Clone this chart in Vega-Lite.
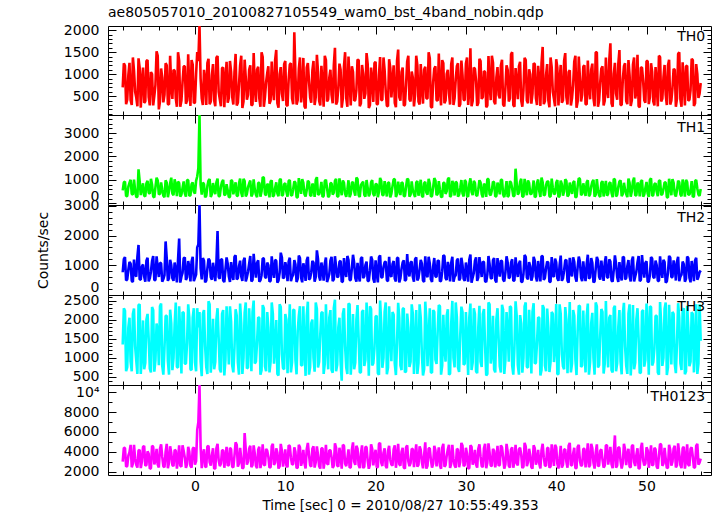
{
"$schema":"https://vega.github.io/schema/vega-lite/v6.json",
"padding":{"left":35,"top":5,"right":8,"bottom":2},
"background":"white",
"datasets":{"lc":[
{"t":-8,"a":700,"b":560,"c":760,"d":1350,"e":3000},
{"t":-7.875,"a":1250,"b":900,"c":1200,"d":2300,"e":4400},
{"t":-7.75,"a":1190,"b":930,"c":1270,"d":2230,"e":4380},
{"t":-7.625,"a":320,"b":310,"c":480,"d":650,"e":2500},
{"t":-7.5,"a":420,"b":320,"c":520,"d":760,"e":2560},
{"t":-7.375,"a":980,"b":720,"c":850,"d":1800,"e":3600},
{"t":-7.25,"a":1260,"b":880,"c":1110,"d":2050,"e":3950},
{"t":-7.125,"a":410,"b":1010,"c":1050,"d":900,"e":4700},
{"t":-7,"a":300,"b":410,"c":470,"d":650,"e":2430},
{"t":-6.875,"a":1380,"b":380,"c":430,"d":2150,"e":2800},
{"t":-6.75,"a":1080,"b":1020,"c":1190,"d":2290,"e":4700},
{"t":-6.625,"a":600,"b":560,"c":700,"d":1300,"e":3300},
{"t":-6.5,"a":470,"b":280,"c":610,"d":930,"e":2690},
{"t":-6.375,"a":270,"b":280,"c":1280,"d":580,"e":2400},
{"t":-6.25,"a":1360,"b":1450,"c":1680,"d":2380,"e":4120},
{"t":-6.125,"a":1150,"b":950,"c":520,"d":2400,"e":4200},
{"t":-6,"a":240,"b":360,"c":510,"d":580,"e":2350},
{"t":-5.875,"a":850,"b":640,"c":960,"d":1100,"e":3000},
{"t":-5.75,"a":1150,"b":860,"c":1020,"d":1980,"e":4490},
{"t":-5.625,"a":350,"b":330,"c":620,"d":700,"e":4600},
{"t":-5.5,"a":380,"b":300,"c":440,"d":870,"e":2600},
{"t":-5.375,"a":1300,"b":860,"c":1150,"d":2000,"e":2650},
{"t":-5.25,"a":1320,"b":960,"c":1250,"d":2150,"e":4050},
{"t":-5.125,"a":480,"b":460,"c":450,"d":1500,"e":3800},
{"t":-5,"a":290,"b":420,"c":560,"d":720,"e":2280},
{"t":-4.875,"a":1050,"b":1050,"c":780,"d":620,"e":2350},
{"t":-4.75,"a":1000,"b":800,"c":1140,"d":2330,"e":4600},
{"t":-4.625,"a":290,"b":300,"c":1310,"d":2250,"e":4500},
{"t":-4.5,"a":510,"b":260,"c":490,"d":640,"e":2720},
{"t":-4.375,"a":760,"b":700,"c":500,"d":950,"e":3100},
{"t":-4.25,"a":1520,"b":1100,"c":1300,"d":1900,"e":4300},
{"t":-4.125,"a":1420,"b":980,"c":900,"d":1700,"e":2700},
{"t":-4,"a":200,"b":390,"c":600,"d":810,"e":2410},
{"t":-3.875,"a":380,"b":410,"c":1080,"d":2350,"e":4300},
{"t":-3.75,"a":1130,"b":900,"c":1060,"d":2420,"e":4750},
{"t":-3.625,"a":920,"b":590,"c":440,"d":800,"e":3500},
{"t":-3.5,"a":360,"b":330,"c":530,"d":560,"e":2520},
{"t":-3.375,"a":530,"b":270,"c":660,"d":1250,"e":2450},
{"t":-3.25,"a":1250,"b":990,"c":1800,"d":2100,"e":3980},
{"t":-3.125,"a":1200,"b":880,"c":1220,"d":2100,"e":4800},
{"t":-3,"a":320,"b":270,"c":470,"d":920,"e":2330},
{"t":-2.875,"a":310,"b":520,"c":560,"d":560,"e":2900},
{"t":-2.75,"a":1420,"b":850,"c":1180,"d":2260,"e":4550},
{"t":-2.625,"a":690,"b":1100,"c":1000,"d":1900,"e":3900},
{"t":-2.5,"a":440,"b":420,"c":560,"d":680,"e":2640},
{"t":-2.375,"a":1100,"b":350,"c":470,"d":1000,"e":2550},
{"t":-2.25,"a":1080,"b":1030,"c":1090,"d":1870,"e":4200},
{"t":-2.125,"a":450,"b":780,"c":820,"d":2450,"e":4100},
{"t":-2,"a":260,"b":310,"c":420,"d":760,"e":2290},
{"t":-1.875,"a":1500,"b":930,"c":1180,"d":750,"e":3200},
{"t":-1.75,"a":1300,"b":870,"c":1900,"d":2350,"e":4650},
{"t":-1.625,"a":260,"b":290,"c":410,"d":1600,"e":2600},
{"t":-1.5,"a":400,"b":380,"c":610,"d":590,"e":2480},
{"t":-1.375,"a":820,"b":660,"c":740,"d":2200,"e":4650},
{"t":-1.25,"a":1180,"b":940,"c":1230,"d":2180,"e":4080},
{"t":-1.125,"a":1180,"b":430,"c":1260,"d":850,"e":3400},
{"t":-1,"a":330,"b":290,"c":500,"d":850,"e":2370},
{"t":-0.875,"a":400,"b":1000,"c":590,"d":1400,"e":2750},
{"t":-0.75,"a":1450,"b":1000,"c":1140,"d":2400,"e":4500},
{"t":-0.625,"a":640,"b":320,"c":930,"d":2050,"e":4000},
{"t":-0.5,"a":280,"b":350,"c":450,"d":700,"e":2580},
{"t":-0.375,"a":1320,"b":820,"c":1120,"d":680,"e":2400},
{"t":-0.25,"a":1220,"b":900,"c":1280,"d":2050,"e":4300},
{"t":-0.125,"a":340,"b":500,"c":460,"d":2300,"e":4450},
{"t":0,"a":360,"b":420,"c":570,"d":880,"e":2700},
{"t":0.125,"a":1000,"b":960,"c":680,"d":650,"e":3050},
{"t":0.25,"a":1500,"b":1150,"c":1600,"d":2300,"e":6200},
{"t":0.375,"a":1300,"b":1500,"c":1700,"d":1800,"e":7000},
{"t":0.5,"a":2110,"b":3770,"c":3050,"d":2200,"e":10750},
{"t":0.625,"a":900,"b":800,"c":900,"d":900,"e":4500},
{"t":0.75,"a":450,"b":380,"c":520,"d":520,"e":2350},
{"t":0.875,"a":300,"b":890,"c":1240,"d":2150,"e":3700},
{"t":1,"a":1100,"b":820,"c":1150,"d":2250,"e":4250},
{"t":1.125,"a":880,"b":260,"c":420,"d":1300,"e":2500},
{"t":1.25,"a":300,"b":330,"c":480,"d":760,"e":2450},
{"t":1.375,"a":1250,"b":740,"c":880,"d":580,"e":4550},
{"t":1.5,"a":1350,"b":980,"c":1220,"d":2480,"e":4600},
{"t":1.625,"a":320,"b":1040,"c":1160,"d":2400,"e":2950},
{"t":1.75,"a":380,"b":280,"c":590,"d":610,"e":2600},
{"t":1.875,"a":980,"b":400,"c":510,"d":1100,"e":3650},
{"t":2,"a":1230,"b":870,"c":1080,"d":2020,"e":4350},
{"t":2.125,"a":410,"b":570,"c":760,"d":700,"e":2300},
{"t":2.25,"a":270,"b":400,"c":460,"d":900,"e":2300},
{"t":2.375,"a":1380,"b":900,"c":1090,"d":2000,"e":4350},
{"t":2.5,"a":1410,"b":1060,"c":2150,"d":2300,"e":4800},
{"t":2.625,"a":600,"b":310,"c":600,"d":1500,"e":3150},
{"t":2.75,"a":430,"b":310,"c":540,"d":700,"e":2550},
{"t":2.875,"a":270,"b":720,"c":1200,"d":620,"e":2800},
{"t":3,"a":1140,"b":920,"c":1190,"d":2150,"e":4150},
{"t":3.125,"a":1150,"b":1010,"c":480,"d":2250,"e":4150},
{"t":3.25,"a":250,"b":360,"c":430,"d":540,"e":2380},
{"t":3.375,"a":850,"b":380,"c":850,"d":950,"e":3450},
{"t":3.5,"a":1280,"b":820,"c":1260,"d":2350,"e":4500},
{"t":3.625,"a":350,"b":560,"c":1050,"d":1700,"e":2600},
{"t":3.75,"a":460,"b":270,"c":620,"d":830,"e":2650},
{"t":3.875,"a":1300,"b":280,"c":430,"d":2350,"e":4400},
{"t":4,"a":1050,"b":1000,"c":1100,"d":1950,"e":4250},
{"t":4.125,"a":480,"b":950,"c":700,"d":800,"e":2500},
{"t":4.25,"a":310,"b":390,"c":500,"d":620,"e":2420},
{"t":4.375,"a":1050,"b":640,"c":1280,"d":1250,"e":3600},
{"t":4.5,"a":1460,"b":900,"c":1330,"d":2270,"e":4950},
{"t":4.625,"a":290,"b":330,"c":520,"d":2100,"e":4700},
{"t":4.75,"a":350,"b":320,"c":560,"d":880,"e":2500},
{"t":4.875,"a":760,"b":860,"c":960,"d":560,"e":2800},
{"t":5,"a":1200,"b":1060,"c":1150,"d":2420,"e":4400},
{"t":5.125,"a":1420,"b":460,"c":620,"d":1900,"e":3300},
{"t":5.25,"a":230,"b":280,"c":470,"d":580,"e":2300},
{"t":5.375,"a":380,"b":1050,"c":1150,"d":1000,"e":2400},
{"t":5.5,"a":1330,"b":950,"c":1250,"d":2180,"e":5900},
{"t":5.625,"a":920,"b":300,"c":450,"d":2450,"e":4200},
{"t":5.75,"a":420,"b":410,"c":590,"d":720,"e":2700},
{"t":5.875,"a":530,"b":700,"c":780,"d":750,"e":3000},
{"t":6,"a":1100,"b":850,"c":1050,"d":2300,"e":4300},
{"t":6.125,"a":1200,"b":980,"c":1310,"d":1600,"e":4600},
{"t":6.25,"a":290,"b":300,"c":450,"d":650,"e":2450},
{"t":6.375,"a":310,"b":410,"c":500,"d":2200,"e":2650},
{"t":6.5,"a":1480,"b":1030,"c":1380,"d":2500,"e":4650},
{"t":6.625,"a":690,"b":590,"c":900,"d":850,"e":3800},
{"t":6.75,"a":370,"b":370,"c":580,"d":900,"e":2560},
{"t":6.875,"a":1100,"b":270,"c":1080,"d":1400,"e":2350},
{"t":7,"a":1170,"b":880,"c":1160,"d":2060,"e":4200},
{"t":7.125,"a":450,"b":880,"c":440,"d":2050,"e":4500},
{"t":7.25,"a":260,"b":290,"c":490,"d":560,"e":2340},
{"t":7.375,"a":1500,"b":520,"c":660,"d":680,"e":3100},
{"t":7.5,"a":1390,"b":1120,"c":1230,"d":2380,"e":4750},
{"t":7.625,"a":260,"b":1100,"c":1220,"d":2300,"e":2700},
{"t":7.75,"a":480,"b":400,"c":610,"d":780,"e":2620},
{"t":7.875,"a":820,"b":350,"c":560,"d":650,"e":4300},
{"t":8,"a":1020,"b":830,"c":1090,"d":2200,"e":4100},
{"t":8.125,"a":1180,"b":780,"c":1000,"d":1800,"e":3500},
{"t":8.25,"a":330,"b":260,"c":440,"d":620,"e":2400},
{"t":8.375,"a":400,"b":930,"c":470,"d":900,"e":2450},
{"t":8.5,"a":1290,"b":990,"c":1300,"d":2450,"e":4550},
{"t":8.625,"a":640,"b":290,"c":820,"d":2150,"e":4800},
{"t":8.75,"a":410,"b":350,"c":570,"d":850,"e":2680},
{"t":8.875,"a":1320,"b":660,"c":1180,"d":1300,"e":2900},
{"t":9,"a":1550,"b":900,"c":1150,"d":1990,"e":4350},
{"t":9.125,"a":340,"b":430,"c":410,"d":580,"e":3900},
{"t":9.25,"a":240,"b":310,"c":480,"d":540,"e":2300},
{"t":9.375,"a":1000,"b":1000,"c":740,"d":2400,"e":2550},
{"t":9.5,"a":1160,"b":1050,"c":1420,"d":2330,"e":4800},
{"t":9.625,"a":560,"b":320,"c":1260,"d":1100,"e":4100},
{"t":9.75,"a":390,"b":380,"c":550,"d":730,"e":2500},
{"t":9.875,"a":1230,"b":820,"c":590,"d":700,"e":3200},
{"t":10,"a":1300,"b":860,"c":1100,"d":2150,"e":4250},
{"t":10.125,"a":300,"b":500,"c":930,"d":2000,"e":2600},
{"t":10.25,"a":280,"b":290,"c":460,"d":600,"e":2450},
{"t":10.375,"a":880,"b":960,"c":1120,"d":1500,"e":4650},
{"t":10.5,"a":1220,"b":1000,"c":1250,"d":2400,"e":4600},
{"t":10.625,"a":1250,"b":360,"c":460,"d":620,"e":3400},
{"t":10.75,"a":450,"b":340,"c":600,"d":880,"e":2700},
{"t":10.875,"a":320,"b":610,"c":680,"d":2250,"e":2750},
{"t":11,"a":1950,"b":940,"c":1170,"d":2260,"e":4450},
{"t":11.125,"a":980,"b":890,"c":1030,"d":950,"e":4000},
{"t":11.25,"a":310,"b":270,"c":430,"d":570,"e":2350},
{"t":11.375,"a":410,"b":260,"c":540,"d":1700,"e":2400},
{"t":11.5,"a":1120,"b":1080,"c":1320,"d":2100,"e":4700},
{"t":11.625,"a":1380,"b":740,"c":1240,"d":2350,"e":4450},
{"t":11.75,"a":360,"b":410,"c":580,"d":810,"e":2580},
{"t":11.875,"a":600,"b":1040,"c":420,"d":800,"e":3050},
{"t":12,"a":1370,"b":880,"c":1060,"d":2350,"e":4200},
{"t":12.125,"a":270,"b":400,"c":880,"d":1250,"e":2850},
{"t":12.25,"a":220,"b":300,"c":470,"d":530,"e":2320},
{"t":12.375,"a":1150,"b":570,"c":1160,"d":2100,"e":4250},
{"t":12.5,"a":1250,"b":970,"c":1280,"d":2470,"e":4900},
{"t":12.625,"a":850,"b":900,"c":510,"d":560,"e":3700},
{"t":12.75,"a":470,"b":360,"c":560,"d":760,"e":2640},
{"t":12.875,"a":350,"b":310,"c":760,"d":1900,"e":2500},
{"t":13,"a":1080,"b":850,"c":1140,"d":2000,"e":4300},
{"t":13.125,"a":1300,"b":720,"c":1090,"d":1000,"e":4550},
{"t":13.25,"a":300,"b":280,"c":440,"d":640,"e":2400},
{"t":13.375,"a":480,"b":1010,"c":600,"d":2450,"e":2950},
{"t":13.5,"a":1440,"b":1120,"c":1500,"d":2280,"e":4550},
{"t":13.625,"a":1050,"b":380,"c":1200,"d":750,"e":3650},
{"t":13.75,"a":390,"b":390,"c":610,"d":900,"e":2550},
{"t":13.875,"a":290,"b":560,"c":480,"d":1600,"e":2300},
{"t":14,"a":1190,"b":920,"c":1090,"d":2180,"e":4350},
{"t":14.125,"a":760,"b":280,"c":850,"d":2200,"e":4350},
{"t":14.25,"a":260,"b":320,"c":480,"d":580,"e":2300},
{"t":14.375,"a":1420,"b":950,"c":1050,"d":850,"e":3150},
{"t":14.5,"a":1320,"b":1010,"c":1260,"d":2400,"e":4700},
{"t":14.625,"a":380,"b":640,"c":430,"d":1400,"e":2800},
{"t":14.75,"a":430,"b":270,"c":550,"d":700,"e":2700},
{"t":14.875,"a":920,"b":330,"c":700,"d":2050,"e":4150},
{"t":15,"a":1100,"b":870,"c":1150,"d":2250,"e":4150},
{"t":15.125,"a":530,"b":860,"c":1280,"d":680,"e":3450},
{"t":15.25,"a":340,"b":380,"c":460,"d":610,"e":2380},
{"t":15.375,"a":1200,"b":460,"c":520,"d":2300,"e":2600},
{"t":15.5,"a":1600,"b":960,"c":1300,"d":2520,"e":4850},
{"t":15.625,"a":310,"b":1050,"c":960,"d":650,"e":4400},
{"t":15.75,"a":380,"b":300,"c":590,"d":820,"e":2600},
{"t":15.875,"a":690,"b":300,"c":620,"d":1800,"e":2500},
{"t":16,"a":1240,"b":1070,"c":1110,"d":2050,"e":4400},
{"t":16.125,"a":1100,"b":700,"c":1150,"d":900,"e":3600},
{"t":16.25,"a":240,"b":350,"c":430,"d":400,"e":2300},
{"t":16.375,"a":450,"b":980,"c":450,"d":2150,"e":4700},
{"t":16.5,"a":1180,"b":880,"c":1240,"d":2300,"e":4600},
{"t":16.625,"a":1500,"b":410,"c":780,"d":1300,"e":2800},
{"t":16.75,"a":460,"b":290,"c":600,"d":750,"e":2550},
{"t":16.875,"a":260,"b":590,"c":1310,"d":580,"e":3300},
{"t":17,"a":1400,"b":990,"c":1170,"d":2420,"e":4250},
{"t":17.125,"a":820,"b":270,"c":500,"d":2400,"e":2400},
{"t":17.25,"a":290,"b":410,"c":490,"d":560,"e":2420},
{"t":17.375,"a":1180,"b":880,"c":900,"d":1100,"e":4200},
{"t":17.5,"a":1050,"b":920,"c":1350,"d":2150,"e":4950},
{"t":17.625,"a":400,"b":520,"c":1080,"d":700,"e":3000},
{"t":17.75,"a":410,"b":330,"c":570,"d":880,"e":2680},
{"t":17.875,"a":640,"b":1100,"c":440,"d":2000,"e":4600},
{"t":18,"a":1330,"b":1040,"c":1080,"d":2380,"e":4300},
{"t":18.125,"a":1320,"b":350,"c":660,"d":1500,"e":2650},
{"t":18.25,"a":270,"b":280,"c":450,"d":620,"e":2350},
{"t":18.375,"a":340,"b":780,"c":1220,"d":620,"e":3800},
{"t":18.5,"a":1210,"b":860,"c":1270,"d":2200,"e":4650},
{"t":18.625,"a":1000,"b":930,"c":560,"d":2250,"e":2350},
{"t":18.75,"a":440,"b":370,"c":620,"d":790,"e":2500},
{"t":18.875,"a":560,"b":290,"c":1000,"d":950,"e":4500},
{"t":19,"a":1480,"b":1000,"c":1120,"d":2450,"e":4450},
{"t":19.125,"a":1230,"b":660,"c":470,"d":1700,"e":3100},
{"t":19.25,"a":230,"b":310,"c":470,"d":530,"e":2280},
{"t":19.375,"a":300,"b":430,"c":820,"d":2350,"e":2700},
{"t":19.5,"a":1150,"b":900,"c":1290,"d":2280,"e":4750},
{"t":19.625,"a":880,"b":1000,"c":1180,"d":800,"e":4300},
{"t":19.75,"a":370,"b":400,"c":540,"d":860,"e":2620},
{"t":19.875,"a":1250,"b":320,"c":410,"d":1250,"e":3500},
{"t":20,"a":1280,"b":830,"c":1160,"d":2080,"e":4200},
{"t":20.125,"a":320,"b":820,"c":740,"d":2100,"e":2450},
{"t":20.25,"a":320,"b":270,"c":420,"d":600,"e":2450},
{"t":20.375,"a":980,"b":500,"c":1260,"d":560,"e":4800},
{"t":20.5,"a":1390,"b":1090,"c":1330,"d":2500,"e":4900},
{"t":20.625,"a":410,"b":960,"c":590,"d":1900,"e":2900},
{"t":20.75,"a":420,"b":350,"c":580,"d":740,"e":2560},
{"t":20.875,"a":1380,"b":360,"c":930,"d":1000,"e":3900},
{"t":21,"a":1090,"b":950,"c":1100,"d":2200,"e":4350},
{"t":21.125,"a":600,"b":610,"c":1120,"d":2450,"e":2550},
{"t":21.25,"a":280,"b":300,"c":490,"d":570,"e":2330},
{"t":21.375,"a":270,"b":890,"c":460,"d":750,"e":4100},
{"t":21.5,"a":1340,"b":880,"c":1280,"d":2350,"e":4600},
{"t":21.625,"a":1150,"b":260,"c":680,"d":1600,"e":3200},
{"t":21.75,"a":470,"b":420,"c":600,"d":910,"e":2700},
{"t":21.875,"a":850,"b":740,"c":1030,"d":2200,"e":2600},
{"t":22,"a":1200,"b":1020,"c":1140,"d":2130,"e":4250},
{"t":22.125,"a":350,"b":1040,"c":540,"d":850,"e":4650},
{"t":22.25,"a":250,"b":280,"c":450,"d":550,"e":2380},
{"t":22.375,"a":1300,"b":400,"c":1240,"d":1400,"e":3400},
{"t":22.5,"a":1560,"b":930,"c":1250,"d":2440,"e":4800},
{"t":22.625,"a":480,"b":570,"c":420,"d":2050,"e":2750},
{"t":22.75,"a":400,"b":360,"c":560,"d":800,"e":2600},
{"t":22.875,"a":1050,"b":900,"c":880,"d":680,"e":4000},
{"t":23,"a":1150,"b":870,"c":1090,"d":2280,"e":4400},
{"t":23.125,"a":290,"b":310,"c":1160,"d":2300,"e":2400},
{"t":23.25,"a":300,"b":320,"c":470,"d":620,"e":2300},
{"t":23.375,"a":760,"b":720,"c":510,"d":650,"e":4450},
{"t":23.5,"a":1290,"b":1060,"c":1370,"d":2160,"e":4650},
{"t":23.625,"a":1420,"b":1010,"c":760,"d":1800,"e":3050},
{"t":23.75,"a":430,"b":290,"c":620,"d":760,"e":2550},
{"t":23.875,"a":380,"b":380,"c":1090,"d":900,"e":2850},
{"t":24,"a":1060,"b":940,"c":1120,"d":2400,"e":4300},
{"t":24.125,"a":920,"b":560,"c":600,"d":2150,"e":4250},
{"t":24.25,"a":270,"b":400,"c":440,"d":580,"e":2450},
{"t":24.375,"a":530,"b":280,"c":1200,"d":1300,"e":3700},
{"t":24.5,"a":1420,"b":890,"c":1260,"d":2250,"e":4750},
{"t":24.625,"a":1200,"b":950,"c":480,"d":580,"e":2500},
{"t":24.75,"a":380,"b":330,"c":570,"d":870,"e":2680},
{"t":24.875,"a":310,"b":640,"c":850,"d":2400,"e":4550},
{"t":25,"a":1230,"b":1010,"c":1180,"d":2050,"e":4200},
{"t":25.125,"a":690,"b":330,"c":1050,"d":1100,"e":2950},
{"t":25.25,"a":330,"b":270,"c":480,"d":540,"e":2320},
{"t":25.375,"a":1100,"b":860,"c":430,"d":700,"e":3650},
{"t":25.5,"a":1170,"b":920,"c":1300,"d":2470,"e":4950},
{"t":25.625,"a":450,"b":460,"c":700,"d":2000,"e":2300},
{"t":25.75,"a":450,"b":380,"c":590,"d":780,"e":2580},
{"t":25.875,"a":1500,"b":1050,"c":1280,"d":1500,"e":4350},
{"t":26,"a":1360,"b":860,"c":1060,"d":2300,"e":4350},
{"t":26.125,"a":260,"b":300,"c":520,"d":620,"e":3150},
{"t":26.25,"a":240,"b":310,"c":430,"d":610,"e":2400},
{"t":26.375,"a":820,"b":700,"c":960,"d":2250,"e":2800},
{"t":26.5,"a":1130,"b":1080,"c":1240,"d":2200,"e":4600},
{"t":26.625,"a":1180,"b":980,"c":620,"d":950,"e":4150},
{"t":26.75,"a":410,"b":350,"c":600,"d":840,"e":2520},
{"t":26.875,"a":400,"b":410,"c":1150,"d":1700,"e":3450},
{"t":27,"a":1470,"b":950,"c":1150,"d":2380,"e":4450},
{"t":27.125,"a":640,"b":590,"c":450,"d":2350,"e":2600},
{"t":27.25,"a":290,"b":290,"c":470,"d":560,"e":2280},
{"t":27.375,"a":1320,"b":270,"c":780,"d":800,"e":4400},
{"t":27.5,"a":1250,"b":880,"c":1330,"d":2130,"e":4800},
{"t":27.625,"a":340,"b":880,"c":1310,"d":1250,"e":2500},
{"t":27.75,"a":400,"b":410,"c":560,"d":900,"e":2650},
{"t":27.875,"a":1000,"b":520,"c":500,"d":2100,"e":3600},
{"t":28,"a":1100,"b":1030,"c":1110,"d":2270,"e":4250},
{"t":28.125,"a":560,"b":1100,"c":900,"d":560,"e":4700},
{"t":28.25,"a":310,"b":280,"c":450,"d":590,"e":2370},
{"t":28.375,"a":1230,"b":350,"c":1080,"d":1900,"e":2800},
{"t":28.5,"a":1380,"b":960,"c":1280,"d":2490,"e":4700},
{"t":28.625,"a":300,"b":780,"c":440,"d":1000,"e":3300},
{"t":28.75,"a":460,"b":340,"c":610,"d":750,"e":2600},
{"t":28.875,"a":880,"b":930,"c":660,"d":2450,"e":2400},
{"t":29,"a":1180,"b":870,"c":1160,"d":2060,"e":4300},
{"t":29.125,"a":1250,"b":290,"c":1220,"d":750,"e":4200},
{"t":29.25,"a":260,"b":380,"c":480,"d":630,"e":2430},
{"t":29.375,"a":320,"b":660,"c":560,"d":1600,"e":3000},
{"t":29.5,"a":1310,"b":1000,"c":1250,"d":2340,"e":4900},
{"t":29.625,"a":980,"b":430,"c":1000,"d":2200,"e":4600},
{"t":29.75,"a":420,"b":300,"c":540,"d":820,"e":2550},
{"t":29.875,"a":410,"b":1000,"c":470,"d":850,"e":2650},
{"t":30,"a":1240,"b":920,"c":1090,"d":2200,"e":4400},
{"t":30.125,"a":1380,"b":320,"c":820,"d":1400,"e":3800},
{"t":30.25,"a":300,"b":290,"c":440,"d":550,"e":2300},
{"t":30.375,"a":600,"b":820,"c":1180,"d":2050,"e":2350},
{"t":30.5,"a":1590,"b":1070,"c":1360,"d":2420,"e":4650},
{"t":30.625,"a":270,"b":500,"c":410,"d":680,"e":4500},
{"t":30.75,"a":390,"b":360,"c":580,"d":880,"e":2700},
{"t":30.875,"a":1150,"b":960,"c":740,"d":2300,"e":3100},
{"t":31,"a":1120,"b":880,"c":1140,"d":2150,"e":4200},
{"t":31.125,"a":850,"b":360,"c":1260,"d":650,"e":2700},
{"t":31.25,"a":280,"b":320,"c":470,"d":600,"e":2400},
{"t":31.375,"a":350,"b":610,"c":590,"d":1800,"e":4300},
{"t":31.5,"a":1350,"b":990,"c":1270,"d":2360,"e":4750},
{"t":31.625,"a":1300,"b":890,"c":930,"d":900,"e":3500},
{"t":31.75,"a":440,"b":400,"c":600,"d":760,"e":2560},
{"t":31.875,"a":480,"b":260,"c":1120,"d":2150,"e":2450},
{"t":32,"a":1070,"b":850,"c":1100,"d":2280,"e":4350},
{"t":32.125,"a":1050,"b":740,"c":460,"d":1300,"e":4800},
{"t":32.25,"a":250,"b":280,"c":430,"d":540,"e":2330},
{"t":32.375,"a":290,"b":1040,"c":680,"d":580,"e":2900},
{"t":32.5,"a":1410,"b":1040,"c":1310,"d":2450,"e":4850},
{"t":32.625,"a":760,"b":400,"c":1030,"d":2400,"e":3900},
{"t":32.75,"a":410,"b":350,"c":570,"d":850,"e":2600},
{"t":32.875,"a":1420,"b":570,"c":540,"d":1100,"e":2550},
{"t":33,"a":1260,"b":930,"c":1170,"d":2100,"e":4300},
{"t":33.125,"a":380,"b":900,"c":1240,"d":700,"e":4100},
{"t":33.25,"a":320,"b":300,"c":490,"d":620,"e":2420},
{"t":33.375,"a":920,"b":310,"c":420,"d":2000,"e":3200},
{"t":33.5,"a":1160,"b":890,"c":1240,"d":2300,"e":4600},
{"t":33.625,"a":530,"b":720,"c":880,"d":1500,"e":2600},
{"t":33.75,"a":450,"b":390,"c":610,"d":780,"e":2650},
{"t":33.875,"a":1200,"b":1010,"c":1160,"d":620,"e":4650},
{"t":34,"a":1330,"b":1010,"c":1130,"d":2390,"e":4450},
{"t":34.125,"a":310,"b":380,"c":510,"d":2250,"e":3400},
{"t":34.25,"a":270,"b":270,"c":450,"d":580,"e":2300},
{"t":34.375,"a":690,"b":560,"c":760,"d":950,"e":2750},
{"t":34.5,"a":1200,"b":950,"c":1300,"d":2200,"e":4800},
{"t":34.625,"a":1100,"b":280,"c":1090,"d":1700,"e":4000},
{"t":34.75,"a":380,"b":340,"c":550,"d":900,"e":2580},
{"t":34.875,"a":450,"b":950,"c":600,"d":2350,"e":2400},
{"t":35,"a":1450,"b":880,"c":1080,"d":2320,"e":4250},
{"t":35.125,"a":1500,"b":640,"c":1200,"d":800,"e":4450},
{"t":35.25,"a":300,"b":310,"c":470,"d":560,"e":2380},
{"t":35.375,"a":260,"b":330,"c":480,"d":1250,"e":3050},
{"t":35.5,"a":1140,"b":1480,"c":1260,"d":2480,"e":4700},
{"t":35.625,"a":820,"b":860,"c":850,"d":2100,"e":2850},
{"t":35.75,"a":430,"b":380,"c":600,"d":810,"e":2620},
{"t":35.875,"a":1180,"b":460,"c":1050,"d":560,"e":4250},
{"t":36,"a":1280,"b":920,"c":1150,"d":2120,"e":4400},
{"t":36.125,"a":400,"b":1050,"c":430,"d":1900,"e":3700},
{"t":36.25,"a":260,"b":290,"c":440,"d":610,"e":2350},
{"t":36.375,"a":640,"b":300,"c":700,"d":1000,"e":2500},
{"t":36.5,"a":1370,"b":1050,"c":1340,"d":2350,"e":4900},
{"t":36.625,"a":1320,"b":700,"c":1280,"d":2450,"e":4550},
{"t":36.75,"a":400,"b":350,"c":580,"d":760,"e":2550},
{"t":36.875,"a":340,"b":980,"c":520,"d":750,"e":2950},
{"t":37,"a":1110,"b":870,"c":1100,"d":2260,"e":4300},
{"t":37.125,"a":1000,"b":410,"c":960,"d":1600,"e":3650},
{"t":37.25,"a":330,"b":400,"c":480,"d":590,"e":2450},
{"t":37.375,"a":560,"b":590,"c":620,"d":2200,"e":2300},
{"t":37.5,"a":1250,"b":980,"c":1280,"d":2430,"e":4650},
{"t":37.625,"a":1230,"b":270,"c":1150,"d":850,"e":4350},
{"t":37.75,"a":460,"b":300,"c":610,"d":870,"e":2700},
{"t":37.875,"a":300,"b":880,"c":450,"d":1400,"e":3150},
{"t":38,"a":1190,"b":1020,"c":1140,"d":2060,"e":4200},
{"t":38.125,"a":880,"b":520,"c":780,"d":2050,"e":2800},
{"t":38.25,"a":280,"b":280,"c":450,"d":540,"e":2320},
{"t":38.375,"a":1250,"b":1100,"c":1310,"d":680,"e":4150},
{"t":38.5,"a":1620,"b":900,"c":1300,"d":2380,"e":4800},
{"t":38.625,"a":320,"b":350,"c":500,"d":2300,"e":3450},
{"t":38.75,"a":390,"b":370,"c":570,"d":800,"e":2600},
{"t":38.875,"a":980,"b":780,"c":900,"d":650,"e":2600},
{"t":39,"a":1230,"b":940,"c":1120,"d":2290,"e":4350},
{"t":39.125,"a":410,"b":930,"c":1080,"d":1800,"e":4400},
{"t":39.25,"a":250,"b":310,"c":430,"d":630,"e":2400},
{"t":39.375,"a":1380,"b":290,"c":440,"d":900,"e":2500},
{"t":39.5,"a":1160,"b":1060,"c":1270,"d":2200,"e":4750},
{"t":39.625,"a":600,"b":660,"c":660,"d":2150,"e":3600},
{"t":39.75,"a":440,"b":390,"c":600,"d":890,"e":2570},
{"t":39.875,"a":270,"b":430,"c":1220,"d":1300,"e":4700},
{"t":40,"a":1340,"b":880,"c":1090,"d":2410,"e":4450},
{"t":40.125,"a":1150,"b":1000,"c":560,"d":580,"e":2800},
{"t":40.25,"a":290,"b":270,"c":470,"d":570,"e":2300},
{"t":40.375,"a":850,"b":320,"c":1000,"d":2400,"e":3300},
{"t":40.5,"a":1210,"b":970,"c":1320,"d":2150,"e":4600},
{"t":40.625,"a":350,"b":820,"c":470,"d":1100,"e":2400},
{"t":40.75,"a":410,"b":340,"c":560,"d":780,"e":2680},
{"t":40.875,"a":1300,"b":500,"c":820,"d":700,"e":4200},
{"t":41,"a":1480,"b":1030,"c":1160,"d":2330,"e":4250},
{"t":41.125,"a":480,"b":960,"c":1180,"d":2000,"e":3000},
{"t":41.25,"a":310,"b":300,"c":480,"d":600,"e":2380},
{"t":41.375,"a":1050,"b":360,"c":410,"d":1500,"e":4600},
{"t":41.5,"a":1090,"b":890,"c":1250,"d":2460,"e":4900},
{"t":41.625,"a":290,"b":610,"c":740,"d":620,"e":2650},
{"t":41.75,"a":450,"b":410,"c":620,"d":850,"e":2620},
{"t":41.875,"a":760,"b":890,"c":1260,"d":2250,"e":3800},
{"t":42,"a":1290,"b":950,"c":1110,"d":2100,"e":4400},
{"t":42.125,"a":1420,"b":260,"c":590,"d":950,"e":2350},
{"t":42.25,"a":240,"b":280,"c":440,"d":550,"e":2330},
{"t":42.375,"a":380,"b":740,"c":930,"d":1700,"e":4500},
{"t":42.5,"a":1400,"b":1080,"c":1290,"d":2370,"e":4700},
{"t":42.625,"a":920,"b":1040,"c":1120,"d":2350,"e":3100},
{"t":42.75,"a":380,"b":360,"c":580,"d":760,"e":2550},
{"t":42.875,"a":530,"b":400,"c":460,"d":800,"e":2700},
{"t":43,"a":1170,"b":860,"c":1130,"d":2240,"e":4300},
{"t":43.125,"a":1200,"b":570,"c":680,"d":1250,"e":4300},
{"t":43.25,"a":320,"b":320,"c":460,"d":620,"e":2420},
{"t":43.375,"a":310,"b":900,"c":1030,"d":2100,"e":3500},
{"t":43.5,"a":1310,"b":990,"c":1350,"d":2420,"e":4850},
{"t":43.625,"a":690,"b":310,"c":540,"d":560,"e":2450},
{"t":43.75,"a":430,"b":390,"c":590,"d":880,"e":2650},
{"t":43.875,"a":1100,"b":720,"c":1240,"d":1900,"e":4800},
{"t":44,"a":1240,"b":920,"c":1080,"d":2180,"e":4350},
{"t":44.125,"a":450,"b":1010,"c":420,"d":1000,"e":2900},
{"t":44.25,"a":270,"b":290,"c":450,"d":560,"e":2300},
{"t":44.375,"a":1500,"b":380,"c":880,"d":2450,"e":3900},
{"t":44.5,"a":1500,"b":1040,"c":1280,"d":2350,"e":4750},
{"t":44.625,"a":260,"b":560,"c":1160,"d":750,"e":2550},
{"t":44.75,"a":400,"b":350,"c":610,"d":810,"e":2580},
{"t":44.875,"a":820,"b":280,"c":510,"d":1600,"e":4100},
{"t":45,"a":1130,"b":880,"c":1150,"d":2280,"e":4250},
{"t":45.125,"a":1180,"b":950,"c":760,"d":2200,"e":3200},
{"t":45.25,"a":290,"b":300,"c":470,"d":590,"e":2400},
{"t":45.375,"a":400,"b":640,"c":1090,"d":850,"e":2600},
{"t":45.5,"a":1380,"b":960,"c":1300,"d":2490,"e":4650},
{"t":45.625,"a":640,"b":330,"c":600,"d":1400,"e":4650},
{"t":45.75,"a":460,"b":410,"c":570,"d":750,"e":2700},
{"t":45.875,"a":1320,"b":860,"c":1200,"d":2050,"e":3400},
{"t":46,"a":1700,"b":900,"c":1120,"d":2120,"e":4500},
{"t":46.125,"a":340,"b":460,"c":480,"d":680,"e":2750},
{"t":46.25,"a":260,"b":270,"c":440,"d":620,"e":2350},
{"t":46.375,"a":1000,"b":1050,"c":850,"d":2300,"e":4000},
{"t":46.5,"a":1260,"b":1020,"c":1330,"d":2360,"e":5650},
{"t":46.625,"a":560,"b":300,"c":1050,"d":650,"e":2400},
{"t":46.75,"a":420,"b":370,"c":600,"d":860,"e":2600},
{"t":46.875,"a":1230,"b":700,"c":430,"d":1800,"e":4450},
{"t":47,"a":1550,"b":940,"c":1100,"d":2250,"e":4400},
{"t":47.125,"a":300,"b":980,"c":700,"d":900,"e":3050},
{"t":47.25,"a":300,"b":310,"c":480,"d":570,"e":2300},
{"t":47.375,"a":880,"b":410,"c":1280,"d":2150,"e":2850},
{"t":47.5,"a":1180,"b":880,"c":1260,"d":2440,"e":4800},
{"t":47.625,"a":1250,"b":590,"c":520,"d":1300,"e":4250},
{"t":47.75,"a":390,"b":400,"c":560,"d":800,"e":2650},
{"t":47.875,"a":320,"b":270,"c":960,"d":580,"e":3700},
{"t":48,"a":1320,"b":1060,"c":1170,"d":2160,"e":4300},
{"t":48.125,"a":980,"b":880,"c":620,"d":2400,"e":2500},
{"t":48.25,"a":280,"b":290,"c":450,"d":540,"e":2420},
{"t":48.375,"a":410,"b":520,"c":1150,"d":1100,"e":4550},
{"t":48.5,"a":1220,"b":950,"c":1290,"d":2380,"e":4700},
{"t":48.625,"a":1380,"b":1100,"c":450,"d":700,"e":2950},
{"t":48.75,"a":450,"b":340,"c":620,"d":880,"e":2560},
{"t":48.875,"a":600,"b":350,"c":780,"d":2000,"e":3650},
{"t":49,"a":1440,"b":890,"c":1090,"d":2300,"e":4350},
{"t":49.125,"a":270,"b":780,"c":1310,"d":1500,"e":2300},
{"t":49.25,"a":250,"b":300,"c":460,"d":600,"e":2330},
{"t":49.375,"a":1150,"b":930,"c":500,"d":620,"e":4350},
{"t":49.5,"a":1150,"b":1000,"c":1340,"d":2210,"e":4900},
{"t":49.625,"a":850,"b":290,"c":900,"d":2250,"e":3150},
{"t":49.75,"a":410,"b":380,"c":580,"d":770,"e":2620},
{"t":49.875,"a":350,"b":660,"c":1080,"d":950,"e":2800},
{"t":50,"a":1300,"b":920,"c":1130,"d":2420,"e":4450},
{"t":50.125,"a":1300,"b":430,"c":440,"d":1700,"e":4150},
{"t":50.25,"a":320,"b":280,"c":440,"d":560,"e":2380},
{"t":50.375,"a":480,"b":1000,"c":660,"d":2350,"e":3450},
{"t":50.5,"a":1250,"b":1070,"c":1270,"d":2330,"e":4650},
{"t":50.625,"a":1050,"b":320,"c":1220,"d":800,"e":2600},
{"t":50.75,"a":380,"b":360,"c":600,"d":890,"e":2700},
{"t":50.875,"a":290,"b":820,"c":560,"d":1250,"e":4400},
{"t":51,"a":1160,"b":870,"c":1150,"d":2100,"e":4250},
{"t":51.125,"a":760,"b":500,"c":1000,"d":2100,"e":2500},
{"t":51.25,"a":270,"b":310,"c":470,"d":620,"e":2300},
{"t":51.375,"a":1420,"b":960,"c":470,"d":560,"e":3600},
{"t":51.5,"a":1390,"b":980,"c":1300,"d":2460,"e":4800},
{"t":51.625,"a":380,"b":360,"c":820,"d":1900,"e":4700},
{"t":51.75,"a":440,"b":400,"c":570,"d":790,"e":2580},
{"t":51.875,"a":920,"b":610,"c":1180,"d":1000,"e":2800},
{"t":52,"a":1210,"b":900,"c":1100,"d":2280,"e":4400},
{"t":52.125,"a":530,"b":890,"c":410,"d":2450,"e":3300},
{"t":52.25,"a":300,"b":270,"c":450,"d":550,"e":2350},
{"t":52.375,"a":1200,"b":260,"c":740,"d":750,"e":2400},
{"t":52.5,"a":1330,"b":1050,"c":1310,"d":2390,"e":4700},
{"t":52.625,"a":310,"b":740,"c":1260,"d":1600,"e":4200},
{"t":52.75,"a":400,"b":350,"c":590,"d":830,"e":2600},
{"t":52.875,"a":690,"b":1040,"c":590,"d":2200,"e":3000},
{"t":53,"a":1120,"b":880,"c":1160,"d":2150,"e":4300},
{"t":53.125,"a":1100,"b":400,"c":930,"d":850,"e":4600},
{"t":53.25,"a":260,"b":300,"c":480,"d":600,"e":2420},
{"t":53.375,"a":450,"b":570,"c":1120,"d":1400,"e":2650},
{"t":53.5,"a":1460,"b":970,"c":1280,"d":2430,"e":4850},
{"t":53.625,"a":1500,"b":900,"c":460,"d":2050,"e":3800},
{"t":53.75,"a":430,"b":390,"c":610,"d":860,"e":2650},
{"t":53.875,"a":260,"b":310,"c":680,"d":680,"e":2350},
{"t":54,"a":1270,"b":1020,"c":1120,"d":2240,"e":4350},
{"t":54.125,"a":820,"b":720,"c":1030,"d":2300,"e":4500},
{"t":54.25,"a":290,"b":290,"c":440,"d":570,"e":2300},
{"t":54.375,"a":1180,"b":1010,"c":540,"d":650,"e":3100},
{"t":54.5,"a":1190,"b":910,"c":1290,"d":2360,"e":4750},
{"t":54.625,"a":400,"b":380,"c":1240,"d":1800,"e":2700},
{"t":54.75,"a":420,"b":370,"c":580,"d":780,"e":2560},
{"t":54.875,"a":640,"b":560,"c":420,"d":900,"e":4300},
{"t":55,"a":1350,"b":950,"c":1140,"d":2190,"e":4450},
{"t":55.125,"a":1320,"b":280,"c":880,"d":2150,"e":3500},
{"t":55.25,"a":280,"b":300,"c":460,"d":620,"e":2380},
{"t":55.375,"a":340,"b":950,"c":1160,"d":1300,"e":2450},
{"t":55.5,"a":1230,"b":1000,"c":1250,"d":2400,"e":4600},
{"t":55.625,"a":1000,"b":640,"c":510,"d":580,"e":4800},
{"t":55.75,"a":460,"b":380,"c":600,"d":850,"e":2700},
{"t":55.875,"a":560,"b":330,"c":760,"d":2400,"e":2900},
{"t":56,"a":800,"b":620,"c":820,"d":1450,"e":3300}
]},
"data":{"name":"lc"},
"bounds":"flush",
"spacing":0,
"vconcat":[
{"width":603,"height":89,
 "title":{"text":"ae805057010_20100827105549_wam0_bst_4band_nobin.qdp","anchor":"start","frame":"group","offset":3},
 "layer":[
  {"mark":{"type":"line","color":"#ff0000","strokeWidth":2.6,"strokeJoin":"bevel","clip":true},
   "encoding":{
    "x":{"field":"t","type":"quantitative","scale":{"domain":[-9.63,57.14],"nice":false,"zero":false},
         "axis":{"orient":"bottom","values":[-8,-6,-4,-2,0,2,4,6,8,10,12,14,16,18,20,22,24,26,28,30,32,34,36,38,40,42,44,46,48,50,52,54,56],"labels":false,"title":null,
                 "tickSize":{"condition":{"test":"datum.value % 10 == 0","value":-8},"value":-4}}},
    "y":{"field":"a","type":"quantitative","scale":{"domain":[73,2095],"nice":false,"zero":false},
         "axis":{"orient":"left","values":[100,200,300,400,500,600,700,800,900,1000,1100,1200,1300,1400,1500,1600,1700,1800,1900,2000],"title":null,
                 "labelExpr":"datum.value % 500 == 0 ? datum.label : ''",
                 "tickSize":{"condition":{"test":"datum.value % 500 == 0","value":-8},"value":-4},"labelPadding":17}}}},
  {"data":{"values":[{"t":0,"v":1000}]},"mark":{"type":"point","opacity":0},
   "encoding":{
    "x":{"field":"t","type":"quantitative","axis":{"orient":"top","values":[-8,-6,-4,-2,0,2,4,6,8,10,12,14,16,18,20,22,24,26,28,30,32,34,36,38,40,42,44,46,48,50,52,54,56],"labels":false,"title":null,
                 "tickSize":{"condition":{"test":"datum.value % 10 == 0","value":-8},"value":-4}}},
    "y":{"field":"v","type":"quantitative","axis":{"orient":"right","values":[100,200,300,400,500,600,700,800,900,1000,1100,1200,1300,1400,1500,1600,1700,1800,1900,2000],"labels":false,"title":null,
                 "tickSize":{"condition":{"test":"datum.value % 500 == 0","value":-8},"value":-4}}}}},
  {"data":{"values":[{"band":"TH0"}]},"mark":{"type":"text","align":"right","baseline":"top","font":"DejaVu Sans","fontSize":14,"color":"black"},
   "encoding":{"x":{"datum":56.5,"type":"quantitative","axis":null},"y":{"datum":2015,"type":"quantitative","axis":null},"text":{"field":"band"}}}
 ],
 "resolve":{"axis":{"x":"independent","y":"independent"}}},
{"width":603,"height":90,
 "layer":[
  {"mark":{"type":"line","color":"#00ff00","strokeWidth":2.6,"strokeJoin":"bevel","clip":true},
   "encoding":{
    "x":{"field":"t","type":"quantitative","scale":{"domain":[-9.63,57.14],"nice":false,"zero":false},
         "axis":{"orient":"bottom","values":[-8,-6,-4,-2,0,2,4,6,8,10,12,14,16,18,20,22,24,26,28,30,32,34,36,38,40,42,44,46,48,50,52,54,56],"labels":false,"title":null,
                 "tickSize":{"condition":{"test":"datum.value % 10 == 0","value":-8},"value":-4}}},
    "y":{"field":"b","type":"quantitative","scale":{"domain":[-64,3766],"nice":false,"zero":false},
         "axis":{"orient":"left","values":[0,200,400,600,800,1000,1200,1400,1600,1800,2000,2200,2400,2600,2800,3000,3200,3400,3600],"title":null,
                 "labelExpr":"datum.value % 1000 == 0 ? datum.label : ''",
                 "labelBaseline":{"condition":{"test":"datum.value == 0","value":"bottom"},"value":"middle"},
                 "tickSize":{"condition":{"test":"datum.value % 1000 == 0","value":-8},"value":-4},"labelPadding":17}}}},
  {"data":{"values":[{"t":0,"v":1000}]},"mark":{"type":"point","opacity":0},
   "encoding":{
    "x":{"field":"t","type":"quantitative","axis":{"orient":"top","values":[-8,-6,-4,-2,0,2,4,6,8,10,12,14,16,18,20,22,24,26,28,30,32,34,36,38,40,42,44,46,48,50,52,54,56],"labels":false,"title":null,
                 "tickSize":{"condition":{"test":"datum.value % 10 == 0","value":-8},"value":-4}}},
    "y":{"field":"v","type":"quantitative","axis":{"orient":"right","values":[0,200,400,600,800,1000,1200,1400,1600,1800,2000,2200,2400,2600,2800,3000,3200,3400,3600],"labels":false,"title":null,
                 "tickSize":{"condition":{"test":"datum.value % 1000 == 0","value":-8},"value":-4}}}}},
  {"data":{"values":[{"band":"TH1"}]},"mark":{"type":"text","align":"right","baseline":"top","font":"DejaVu Sans","fontSize":14,"color":"black"},
   "encoding":{"x":{"datum":56.5,"type":"quantitative","axis":null},"y":{"datum":3511,"type":"quantitative","axis":null},"text":{"field":"band"}}}
 ],
 "resolve":{"axis":{"x":"independent","y":"independent"}}},
{"width":603,"height":90,
 "layer":[
  {"mark":{"type":"line","color":"#0000ff","strokeWidth":2.6,"strokeJoin":"bevel","clip":true},
   "encoding":{
    "x":{"field":"t","type":"quantitative","scale":{"domain":[-9.63,57.14],"nice":false,"zero":false},
         "axis":{"orient":"bottom","values":[-8,-6,-4,-2,0,2,4,6,8,10,12,14,16,18,20,22,24,26,28,30,32,34,36,38,40,42,44,46,48,50,52,54,56],"labels":false,"title":null,
                 "tickSize":{"condition":{"test":"datum.value % 10 == 0","value":-8},"value":-4}}},
    "y":{"field":"c","type":"quantitative","scale":{"domain":[-8,3030],"nice":false,"zero":false},
         "axis":{"orient":"left","values":[0,200,400,600,800,1000,1200,1400,1600,1800,2000,2200,2400,2600,2800,3000],"title":"Counts/sec","titlePadding":13,
                 "labelExpr":"datum.value % 1000 == 0 ? datum.label : ''",
                 "labelBaseline":{"condition":{"test":"datum.value == 0","value":"bottom"},"value":"middle"},
                 "tickSize":{"condition":{"test":"datum.value % 1000 == 0","value":-8},"value":-4},"labelPadding":17}}}},
  {"data":{"values":[{"t":0,"v":1000}]},"mark":{"type":"point","opacity":0},
   "encoding":{
    "x":{"field":"t","type":"quantitative","axis":{"orient":"top","values":[-8,-6,-4,-2,0,2,4,6,8,10,12,14,16,18,20,22,24,26,28,30,32,34,36,38,40,42,44,46,48,50,52,54,56],"labels":false,"title":null,
                 "tickSize":{"condition":{"test":"datum.value % 10 == 0","value":-8},"value":-4}}},
    "y":{"field":"v","type":"quantitative","axis":{"orient":"right","values":[0,200,400,600,800,1000,1200,1400,1600,1800,2000,2200,2400,2600,2800,3000],"labels":false,"title":null,
                 "tickSize":{"condition":{"test":"datum.value % 1000 == 0","value":-8},"value":-4}}}}},
  {"data":{"values":[{"band":"TH2"}]},"mark":{"type":"text","align":"right","baseline":"top","font":"DejaVu Sans","fontSize":14,"color":"black"},
   "encoding":{"x":{"datum":56.5,"type":"quantitative","axis":null},"y":{"datum":2827,"type":"quantitative","axis":null},"text":{"field":"band"}}}
 ],
 "resolve":{"axis":{"x":"independent","y":"independent"}}},
{"width":603,"height":90,
 "layer":[
  {"mark":{"type":"line","color":"#00ffff","strokeWidth":2.6,"strokeJoin":"bevel","clip":true},
   "encoding":{
    "x":{"field":"t","type":"quantitative","scale":{"domain":[-9.63,57.14],"nice":false,"zero":false},
         "axis":{"orient":"bottom","values":[-8,-6,-4,-2,0,2,4,6,8,10,12,14,16,18,20,22,24,26,28,30,32,34,36,38,40,42,44,46,48,50,52,54,56],"labels":false,"title":null,
                 "tickSize":{"condition":{"test":"datum.value % 10 == 0","value":-8},"value":-4}}},
    "y":{"field":"d","type":"quantitative","scale":{"domain":[290,2645],"nice":false,"zero":false},
         "axis":{"orient":"left","values":[300,400,500,600,700,800,900,1000,1100,1200,1300,1400,1500,1600,1700,1800,1900,2000,2100,2200,2300,2400,2500,2600],"title":null,
                 "labelExpr":"datum.value % 500 == 0 ? datum.label : ''",
                 "tickSize":{"condition":{"test":"datum.value % 500 == 0","value":-8},"value":-4},"labelPadding":17}}}},
  {"data":{"values":[{"t":0,"v":1000}]},"mark":{"type":"point","opacity":0},
   "encoding":{
    "x":{"field":"t","type":"quantitative","axis":{"orient":"top","values":[-8,-6,-4,-2,0,2,4,6,8,10,12,14,16,18,20,22,24,26,28,30,32,34,36,38,40,42,44,46,48,50,52,54,56],"labels":false,"title":null,
                 "tickSize":{"condition":{"test":"datum.value % 10 == 0","value":-8},"value":-4}}},
    "y":{"field":"v","type":"quantitative","axis":{"orient":"right","values":[300,400,500,600,700,800,900,1000,1100,1200,1300,1400,1500,1600,1700,1800,1900,2000,2100,2200,2300,2400,2500,2600],"labels":false,"title":null,
                 "tickSize":{"condition":{"test":"datum.value % 500 == 0","value":-8},"value":-4}}}}},
  {"data":{"values":[{"band":"TH3"}]},"mark":{"type":"text","align":"right","baseline":"top","font":"DejaVu Sans","fontSize":14,"color":"black"},
   "encoding":{"x":{"datum":56.5,"type":"quantitative","axis":null},"y":{"datum":2522,"type":"quantitative","axis":null},"text":{"field":"band"}}}
 ],
 "resolve":{"axis":{"x":"independent","y":"independent"}}},
{"width":603,"height":90,
 "layer":[
  {"mark":{"type":"line","color":"#ff00ff","strokeWidth":2.6,"strokeJoin":"bevel","clip":true},
   "encoding":{
    "x":{"field":"t","type":"quantitative","scale":{"domain":[-9.63,57.14],"nice":false,"zero":false},
         "axis":{"orient":"bottom","values":[-8,-6,-4,-2,0,2,4,6,8,10,12,14,16,18,20,22,24,26,28,30,32,34,36,38,40,42,44,46,48,50,52,54,56],
                 "labelExpr":"datum.value % 10 == 0 ? datum.label : ''","labelPadding":12,
                 "title":"Time [sec] 0 = 2010/08/27 10:55:49.353","titlePadding":1,"titleFontSize":13.5,"titleX":292,
                 "tickSize":{"condition":{"test":"datum.value % 10 == 0","value":-8},"value":-4}}},
    "y":{"field":"e","type":"quantitative","scale":{"domain":[1650,10750],"nice":false,"zero":false},
         "axis":{"orient":"left","values":[2000,3000,4000,5000,6000,7000,8000,9000,10000],"title":null,
                 "labelExpr":"datum.value == 10000 ? '10⁴' : (datum.value % 2000 == 0 ? datum.label : '')",
                 "tickSize":{"condition":{"test":"datum.value % 2000 == 0","value":-8},"value":-4},"labelPadding":17}}}},
  {"data":{"values":[{"t":0,"v":5000}]},"mark":{"type":"point","opacity":0},
   "encoding":{
    "x":{"field":"t","type":"quantitative","axis":{"orient":"top","values":[-8,-6,-4,-2,0,2,4,6,8,10,12,14,16,18,20,22,24,26,28,30,32,34,36,38,40,42,44,46,48,50,52,54,56],"labels":false,"title":null,
                 "tickSize":{"condition":{"test":"datum.value % 10 == 0","value":-8},"value":-4}}},
    "y":{"field":"v","type":"quantitative","axis":{"orient":"right","values":[2000,3000,4000,5000,6000,7000,8000,9000,10000],"labels":false,"title":null,
                 "tickSize":{"condition":{"test":"datum.value % 2000 == 0","value":-8},"value":-4}}}}},
  {"data":{"values":[{"band":"TH0123"}]},"mark":{"type":"text","align":"right","baseline":"top","font":"DejaVu Sans","fontSize":14,"color":"black"},
   "encoding":{"x":{"datum":56.5,"type":"quantitative","axis":null},"y":{"datum":10275,"type":"quantitative","axis":null},"text":{"field":"band"}}}
 ],
 "resolve":{"axis":{"x":"independent","y":"independent"}}}
],
"config":{
 "view":{"stroke":"black","strokeWidth":1},
 "axis":{"domain":false,"grid":false,"tickColor":"black","tickWidth":1,"labelColor":"black","labelFont":"DejaVu Sans","labelFontSize":14,"labelOverlap":false,"labelFlush":false,"labelBound":false,"format":"d",
         "titleFont":"DejaVu Sans","titleFontSize":14,"titleFontWeight":"normal","titleColor":"black","zindex":1},
 "title":{"font":"DejaVu Sans","fontSize":14,"fontWeight":"normal","color":"black"}
}
}
